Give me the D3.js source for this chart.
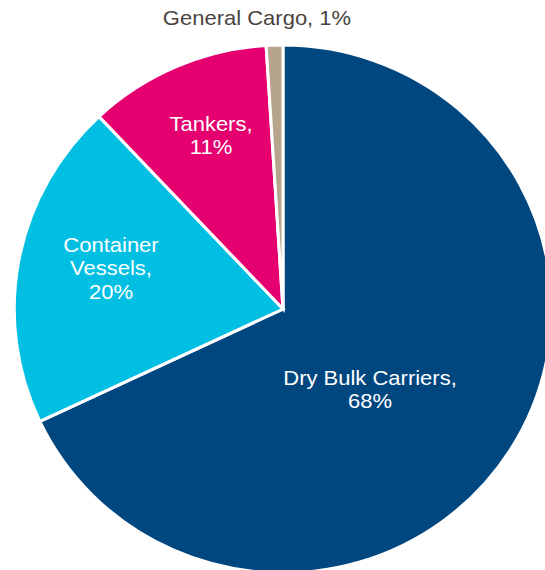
<!DOCTYPE html>
<html>
<head>
<meta charset="utf-8">
<script src="https://cdn.jsdelivr.net/npm/d3@7"></script>
<style>
  html, body { margin: 0; padding: 0; background: #fff; }
  svg { display: block; }
</style>
</head>
<body>
<svg id="chart" width="545" height="570"></svg>
<script>
// ---- data ----
const categories = ["Dry Bulk Carriers", "Container Vessels", "Tankers", "General Cargo"];
const shares = [68, 20, 11, 1];
const labelLines = [
  ["Dry Bulk Carriers,", "68%"],
  ["Container", "Vessels,", "20%"],
  ["Tankers,", "11%"],
  ["General Cargo, 1%"]
];

// ---- layout / style ----
const colors = ["#00467f", "#00bfe2", "#e6006f", "#b6a58c"];
const textColors = ["#ffffff", "#ffffff", "#ffffff", "#4a4440"];
// label anchor offsets (centre x, first baseline y) relative to pie centre
const labelAnchors = [[87, 76], [-172, -57], [-72, -178], [-26, -284]];
const cx = 283, cy = 309, R = 264;
const lineH = 23.5;

const svg = d3.select("#chart");
const g = svg.append("g").attr("transform", `translate(${cx},${cy})`);
const pieG = g.append("g").attr("transform", "scale(1.018,1)");

const pie = d3.pie().sort(null).value(d => d);
const arcs = pie(shares);
const arc = d3.arc().innerRadius(0).outerRadius(R);

pieG.selectAll("path.slice")
  .data(arcs)
  .join("path")
  .attr("class", "slice")
  .attr("d", arc)
  .attr("fill", (d, i) => colors[i])
  .attr("stroke", "#ffffff")
  .attr("stroke-width", 3)
  .attr("stroke-linejoin", "miter");

const labels = g.selectAll("g.label")
  .data(categories)
  .join("g")
  .attr("class", "label")
  .attr("transform", (d, i) => `translate(${labelAnchors[i][0]},${labelAnchors[i][1]}) scale(1.1,1)`);

labels.each(function(d, i) {
  const sel = d3.select(this);
  labelLines[i].forEach((line, k) => {
    sel.append("text")
      .attr("x", 0)
      .attr("y", k * lineH)
      .attr("text-anchor", "middle")
      .attr("font-family", "Liberation Sans, Arial, sans-serif")
      .attr("font-size", 20)
      .attr("fill", textColors[i])
      .text(line);
  });
});
</script>
</body>
</html>
